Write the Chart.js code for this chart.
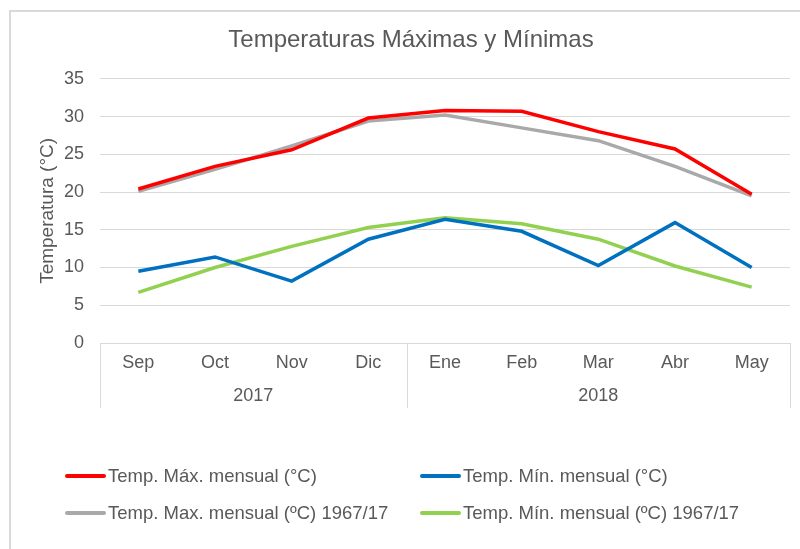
<!DOCTYPE html>
<html>
<head>
<meta charset="utf-8">
<script src="https://cdn.jsdelivr.net/npm/chart.js@4.4.1/dist/chart.umd.min.js"></script>
<style>
  html, body { margin: 0; padding: 0; background: #fff; }
  #wrap { position: relative; width: 800px; height: 549px; overflow: hidden; }
  #frame { position: absolute; left: 9px; top: 10px; width: 900px; height: 700px;
           border-left: 2px solid #d9d9d9; border-top: 2px solid #d9d9d9; box-sizing: border-box; }
  #c { position: absolute; left: 0; top: 0; }
  #legend { position: absolute; left: 0; top: 0; width: 800px; height: 549px; pointer-events: none;
            font-family: "Liberation Sans", Arial, sans-serif; font-size: 18.5px; color: #595959; }
  .li { position: absolute; display: flex; align-items: center; white-space: nowrap; }
  .sw { width: 41px; height: 4px; border-radius: 2px; margin-right: 2px; }
</style>
</head>
<body>
<div id="wrap">
  <div id="frame"></div>
  <canvas id="c" width="800" height="549"></canvas>
  <div id="legend"></div>
</div>
<script>
const months = ['Sep', 'Oct', 'Nov', 'Dic', 'Ene', 'Feb', 'Mar', 'Abr', 'May'];
const years = ['2017', '2018'];
const yearGroupSizes = [4, 5];

const maxMensual = [20.4, 23.4, 25.6, 29.8, 30.8, 30.7, 28.0, 25.7, 19.7];
const minMensual = [9.5, 11.4, 8.2, 13.75, 16.4, 14.8, 10.25, 15.95, 10.0];
const maxHistorica = [20.1, 23.0, 26.1, 29.4, 30.2, 28.5, 26.8, 23.4, 19.5];
const minHistorica = [6.7, 10.0, 12.8, 15.3, 16.6, 15.8, 13.75, 10.2, 7.4];

const seriesNames = [
  'Temp. Máx. mensual (°C)',
  'Temp. Mín. mensual (°C)',
  'Temp. Max. mensual (ºC) 1967/17',
  'Temp. Mín. mensual (ºC) 1967/17'
];

const textColor = '#595959';
const gridColor = '#d9d9d9';
const fontFamily = '"Liberation Sans", Arial, sans-serif';

// Group boundaries and centers (in category index units)
const boundaries = [-0.5];
const centers = [];
yearGroupSizes.forEach(n => {
  const start = boundaries[boundaries.length - 1];
  centers.push(start + n / 2);
  boundaries.push(start + n);
});

const separatorPlugin = {
  id: 'separators',
  afterDraw(chart) {
    const xs = chart.scales.x;
    const x2 = chart.scales.x2;
    const ctx = chart.ctx;
    ctx.save();
    ctx.strokeStyle = gridColor;
    ctx.lineWidth = 1;
    boundaries.forEach(b => {
      const px = Math.round(xs.getPixelForValue(b)) + 0.5;
      ctx.beginPath();
      ctx.moveTo(px, chart.chartArea.bottom);
      ctx.lineTo(px, x2.bottom);
      ctx.stroke();
    });
    ctx.restore();
  }
};

const ds = (label, data, color) => ({
  label, data, borderColor: color, backgroundColor: color,
  borderWidth: 3.5, pointRadius: 0, tension: 0, fill: false
});

const chart = new Chart(document.getElementById('c'), {
  type: 'line',
  data: {
    labels: months,
    datasets: [
      ds(seriesNames[0], maxMensual, '#ff0000'),
      ds(seriesNames[1], minMensual, '#0070c0'),
      ds(seriesNames[2], maxHistorica, '#a9a9a9'),
      ds(seriesNames[3], minHistorica, '#92d050')
    ]
  },
  options: {
    responsive: false,
    animation: false,
    devicePixelRatio: 1,
    layout: { padding: { left: 32, right: 10, top: 10, bottom: 141 } },
    plugins: {
      legend: { display: false },
      tooltip: { enabled: false },
      title: {
        display: true,
        text: 'Temperaturas Máximas y Mínimas',
        color: textColor,
        font: { family: fontFamily, size: 24, weight: 'normal' },
        padding: { top: 16, bottom: 24 }
      }
    },
    scales: {
      x: {
        type: 'category',
        offset: true,
        weight: 0,
        grid: { display: false, drawTicks: false },
        border: { display: false },
        ticks: { color: textColor, font: { family: fontFamily, size: 18 }, padding: 9, maxRotation: 0, autoSkip: false },
        afterFit: axis => { axis.height = 30; }
      },
      x2: {
        type: 'linear',
        position: 'bottom',
        weight: 1,
        min: boundaries[0],
        max: boundaries[boundaries.length - 1],
        grid: { display: false, drawTicks: false },
        border: { display: false },
        afterBuildTicks: axis => { axis.ticks = centers.map(v => ({ value: v })); },
        ticks: {
          color: textColor, font: { family: fontFamily, size: 18 }, padding: 12,
          autoSkip: false, maxRotation: 0,
          callback: (v, i) => years[i]
        },
        afterFit: axis => { axis.height = 35; }
      },
      y: {
        min: 0, max: 35,
        ticks: { stepSize: 5, color: textColor, font: { family: fontFamily, size: 18 }, padding: 16 },
        grid: { color: gridColor, drawTicks: false, lineWidth: 1 },
        border: { display: false },
        title: {
          display: true,
          text: 'Temperatura (°C)',
          color: textColor,
          font: { family: fontFamily, size: 19 },
          padding: { top: 4, bottom: 4 }
        },
        afterFit: axis => { axis.width = 68; }
      }
    }
  },
  plugins: [separatorPlugin]
});

// HTML legend built from the chart's datasets (2 columns)
const legendEl = document.getElementById('legend');
const colX = [65, 420];
const rowY = [476, 513];
chart.data.datasets.forEach((d, i) => {
  const item = document.createElement('div');
  item.className = 'li';
  item.style.left = colX[i % 2] + 'px';
  item.style.top = (rowY[Math.floor(i / 2)] - 11) + 'px';
  item.style.height = '22px';
  const sw = document.createElement('span');
  sw.className = 'sw';
  sw.style.background = d.borderColor;
  const tx = document.createElement('span');
  tx.textContent = d.label;
  item.appendChild(sw);
  item.appendChild(tx);
  legendEl.appendChild(item);
});
</script>
</body>
</html>
